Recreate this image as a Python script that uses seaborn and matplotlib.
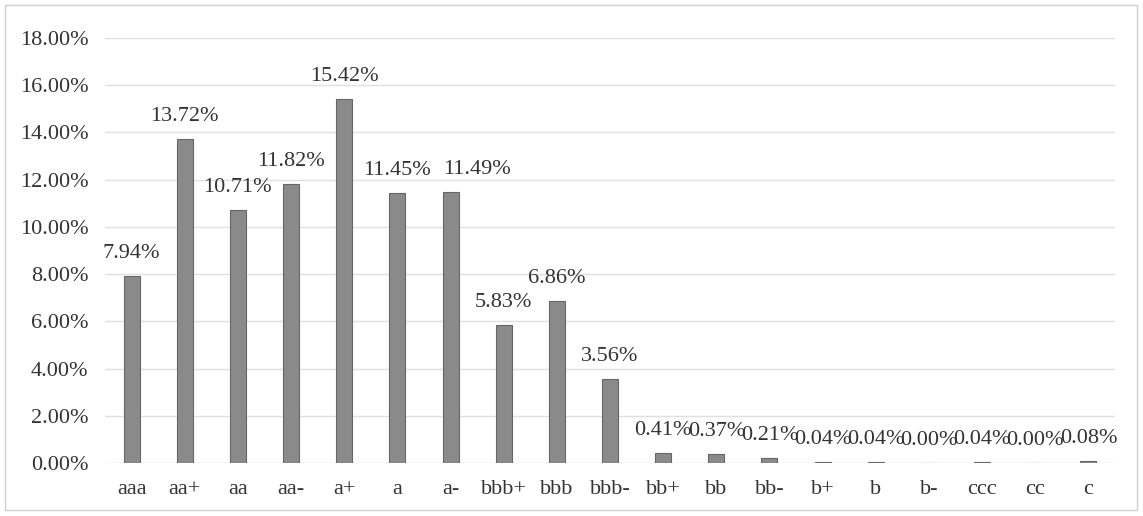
import pandas as pd
import numpy as np
import seaborn as sns
import matplotlib.pyplot as plt
from matplotlib.patches import Rectangle

# rating distribution
ratings = ['aaa', 'aa+', 'aa', 'aa-', 'a+', 'a', 'a-', 'bbb+', 'bbb', 'bbb-',
           'bb+', 'bb', 'bb-', 'b+', 'b', 'b-', 'ccc', 'cc', 'c']
shares = [7.94, 13.72, 10.71, 11.82, 15.42, 11.45, 11.49, 5.83, 6.86, 3.56,
          0.41, 0.37, 0.21, 0.04, 0.04, 0.00, 0.04, 0.00, 0.08]
yticks = [0, 2, 4, 6, 8, 10, 12, 14, 16, 18]

df = pd.DataFrame({'rating': ratings, 'share': shares})

sns.set_style('white')
plt.rcParams['font.family'] = ['Liberation Serif', 'DejaVu Serif']

fig = plt.figure(figsize=(11.43, 5.16), dpi=100)
ax = fig.add_axes([105 / 1143, 1 - 463 / 516, (1115 - 105) / 1143, (463 - 38) / 516])

sns.barplot(data=df, x='rating', y='share', color='#8a8a8a', width=0.3,
            edgecolor='#666666', linewidth=0.8, saturation=1, ax=ax)

# small nudges like the excel label placement
nudge = {6: 0.5}
for i, v in enumerate(shares):
    ax.text(i + nudge.get(i, 0), v + 0.55, f'{v:.2f}%', ha='center', va='bottom',
            fontsize=16, color='#333333')

ax.set_ylim(0, 18)
ax.set_yticks(yticks)
ax.set_yticklabels([f'{t:.2f}%' for t in yticks])
ax.yaxis.grid(True, color='#e0e0e0', linewidth=1)
ax.set_axisbelow(True)
ax.set_xlabel('')
ax.set_ylabel('')
ax.tick_params(axis='both', length=0, labelsize=16, labelcolor='#333333')
ax.tick_params(axis='y', pad=12)
ax.tick_params(axis='x', pad=12)
for s in ax.spines.values():
    s.set_visible(False)
ax.set_xlim(-0.5, len(ratings) - 0.5)

fig.patches.append(Rectangle((5 / 1143, 1 - 510 / 516), 1132 / 1143, 505 / 516,
                             transform=fig.transFigure, fill=False,
                             edgecolor='#d0d0d0', linewidth=1))

fig.savefig('out.png', dpi=100)
